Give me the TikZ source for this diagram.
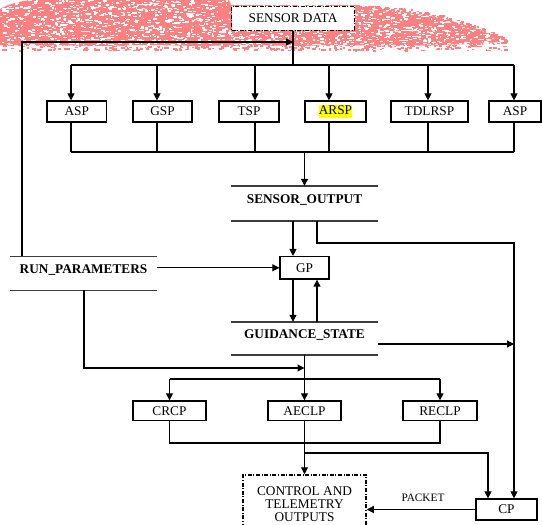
\documentclass[tikz,border=0pt]{standalone}
\usepackage{fontspec}
\setmainfont{Liberation Serif}
\usetikzlibrary{arrows.meta}

\definecolor{speck}{RGB}{255,128,128}
\definecolor{hilite}{RGB}{255,255,0}
\definecolor{storegray}{RGB}{60,60,60}

\tikzset{
  wire/.style={line width=1.1pt, draw=black},
  arr/.style={wire, -{Triangle[length=7pt,width=7pt]}},
  lbl/.style={font=\fontsize{13.3}{15}\selectfont},
  procbox/.style={lbl, draw, line width=1.2pt, minimum height=21pt, inner sep=0pt},
  datastore/.style={font=\fontsize{13.3}{15}\selectfont\bfseries, inner xsep=0pt, inner ysep=0pt,
                    minimum width=147pt, text height=#1, text depth=#1},
  storeline/.style={line width=1.5pt, draw=storegray},
  termbox/.style={lbl, draw, fill=white, dash pattern=on 4pt off 1.6pt on 1pt off 1.6pt, inner sep=0pt},
}
% yellow marker behind a word
\newcommand{\markword}[1]{{\setlength{\fboxsep}{0.3pt}\colorbox{hilite}{\rule[-3pt]{0pt}{11pt}#1}}}

\begin{document}
\begin{tikzpicture}[x=1pt, y=-1pt]
\useasboundingbox (0,0) rectangle (542,525);
\clip (0,0) rectangle (542,525);

% ---- speckled pink band along the top ----
\pgfmathsetseed{4711}
\begin{scope}
  \clip (0,4) -- (10,1) -- (20,-2) -- (520,-2) -- (520,52) -- (0,52) -- cycle;
  % ragged rim: loose specks along the lower edge
  \foreach \k in {1,...,420}{
    \pgfmathsetmacro\rx{rnd*505}
    \pgfmathsetmacro\ry{42+rnd*8}
    \pgfmathsetmacro\rw{1+rnd*3}
    \fill[speck] (\rx,\ry) rectangle ++(\rw,1.6);
  }
  % ragged rim: loose specks along the tapering upper right edge
  \foreach \k in {1,...,260}{
    \pgfmathsetmacro\rt{rnd}
    \pgfmathsetmacro\rx{356+150*\rt}
    \pgfmathsetmacro\ry{8+32*\rt*\rt-3+rnd*7}
    \pgfmathsetmacro\rw{1+rnd*3}
    \fill[speck] (\rx,\ry) rectangle ++(\rw,1.6);
  }
\end{scope}
\begin{scope}
  \clip (0,9) -- (8,5) -- (18,2) -- (30,0) -- (229,0) -- (231,5) -- (356,5)
        -- (362,10) -- (395,12) -- (425,15) -- (445,19) -- (465,25) -- (482,31)
        -- (497,37) -- (500,42) -- (470,44) -- (440,45) -- (400,46) -- (340,45)
        -- (300,46) -- (250,45) -- (200,46) -- (150,45) -- (100,46) -- (50,45)
        -- (0,45) -- cycle;
  \fill[speck] (0,0) rectangle (520,55);
  \foreach \k in {1,...,2000}{
    \pgfmathsetmacro\rx{rnd*505}
    \pgfmathsetmacro\ry{rnd*48}
    \pgfmathsetmacro\rw{1+rnd*3}
    \fill[white] (\rx,\ry) rectangle ++(\rw,1.3);
  }
\end{scope}

% ---- terminators ----
\node[termbox, line width=1pt, minimum width=123pt, minimum height=24pt] (sdata) at (293,18) {SENSOR DATA};
\node[termbox, line width=1.5pt, minimum width=123pt, minimum height=58pt, align=center,
      font=\fontsize{13.3}{13.3}\selectfont] (ctrl) at (304.5,504) {CONTROL AND\\TELEMETRY\\OUTPUTS};

% ---- sensor processes ----
\node[procbox, minimum width=59.5pt] (asp1)   at (76.8,111.5)  {ASP};
\node[procbox, minimum width=59pt]   (gsp)    at (162.5,111.5) {GSP};
\node[procbox, minimum width=60pt]   (tsp)    at (249,111.5)   {TSP};
\node[procbox, minimum width=61pt]   (arsp)   at (335.5,111.5) {\markword{ARSP}};
\node[procbox, minimum width=77pt]   (tdlrsp) at (429.5,111.5) {TDLRSP};
\node[procbox, minimum width=52pt]   (asp2)   at (515,111.5)   {ASP};

% ---- data stores ----
\node[datastore=17.5pt] (sout) at (304.5,203.5) {SENSOR\_OUTPUT};
\draw[storeline] (sout.north west) -- (sout.north east);
\draw[storeline] (sout.south west) -- (sout.south east);

\node[datastore=16.8pt] (runp) at (83.5,273.3) {RUN\_PARAMETERS};
\draw[storeline] (runp.north west) -- (runp.north east);
\draw[storeline] (runp.south west) -- (runp.south east);

\node[datastore=16.5pt] (gs) at (304.5,338.5) {GUIDANCE\_STATE};
\draw[storeline] (gs.north west) -- (gs.north east);
\draw[storeline] (gs.south west) -- (gs.south east);

% ---- other processes ----
\node[procbox, minimum width=49pt, minimum height=22.5pt] (gp) at (304.5,267.8) {GP};
\node[procbox, minimum width=73pt, minimum height=19.5pt] (crcp)  at (169.5,410.7) {CRCP};
\node[procbox, minimum width=73pt, minimum height=19.5pt] (aeclp) at (304.5,410.7) {AECLP};
\node[procbox, minimum width=74pt, minimum height=19.5pt] (reclp) at (440,410.7)   {RECLP};
\node[procbox, minimum width=61pt, minimum height=21pt]   (cp)    at (506.5,509.5) {CP};

% ---- routing points ----
\coordinate (tb) at (293,65);
\coordinate (fb) at (22,42);
\coordinate (bb) at (0,152);
\coordinate (t1) at (71,65);
\coordinate (t2) at (157,65);
\coordinate (t3) at (255,65);
\coordinate (t4) at (329,65);
\coordinate (t5) at (428,65);
\coordinate (t6) at (514,65);
\coordinate (xa) at (293,0);
\coordinate (xb) at (317,0);
\coordinate (xr) at (514,0);
\coordinate (xc) at (84,0);
\coordinate (xd) at (488,0);
\coordinate (y243) at (0,243);
\coordinate (y344) at (0,344);
\coordinate (y368) at (0,368);
\coordinate (y379) at (0,379);
\coordinate (y443) at (0,443);
\coordinate (y453) at (0,453);

% ---- sensor data fan-out ----
\draw[wire] (sdata.south) -- (sdata.south |- tb);
\draw[wire] (t1) -- (t6);
\draw[arr] (runp.north -| fb) -- (fb) -- (fb -| sdata.south);
\foreach \b/\t in {asp1/t1, gsp/t2, tsp/t3, arsp/t4, tdlrsp/t5, asp2/t6}{
  \draw[arr] (\t) -- (\t |- \b.north);
  \draw[wire] (\t |- \b.south) -- (\t |- bb);
}
\draw[wire] (t1 |- bb) -- (t6 |- bb);
\draw[arr] (sout.north |- bb) -- (sout.north);

% ---- guidance ----
\draw[arr] (xa |- sout.south) -- (xa |- gp.north);
\draw[arr] (xb |- sout.south) -- (xb |- y243) -- (xr |- y243) -- (xr |- cp.north);
\draw[arr] (runp.east |- gp.west) -- (gp.west);
\draw[arr] (xa |- gp.south) -- (xa |- gs.north);
\draw[arr] (xb |- gs.north) -- (xb |- gp.south);
\draw[arr] (gs.east |- y344) -- (xr |- y344);
\draw[arr] (xc |- runp.south) -- (xc |- y368) -- (gs.south |- y368);

% ---- control laws ----
\draw[arr] (gs.south) -- (aeclp.north);
\draw[wire] (crcp.north |- y379) -- (reclp.north |- y379);
\draw[arr] (crcp.north |- y379) -- (crcp.north);
\draw[arr] (reclp.north |- y379) -- (reclp.north);
\draw[wire] (crcp.south) -- (crcp.south |- y443) -- (reclp.south |- y443) -- (reclp.south);
\draw[arr] (aeclp.south) -- (ctrl.north);
\draw[arr] (aeclp.south |- y453) -- (xd |- y453) -- (xd |- cp.north);

% ---- output packet ----
\draw[arr] (cp.west) -- (ctrl.east |- cp.west);
\node[font=\fontsize{11.3}{13}\selectfont] (pkt) at (423,498) {PACKET};
\end{tikzpicture}
\end{document}
